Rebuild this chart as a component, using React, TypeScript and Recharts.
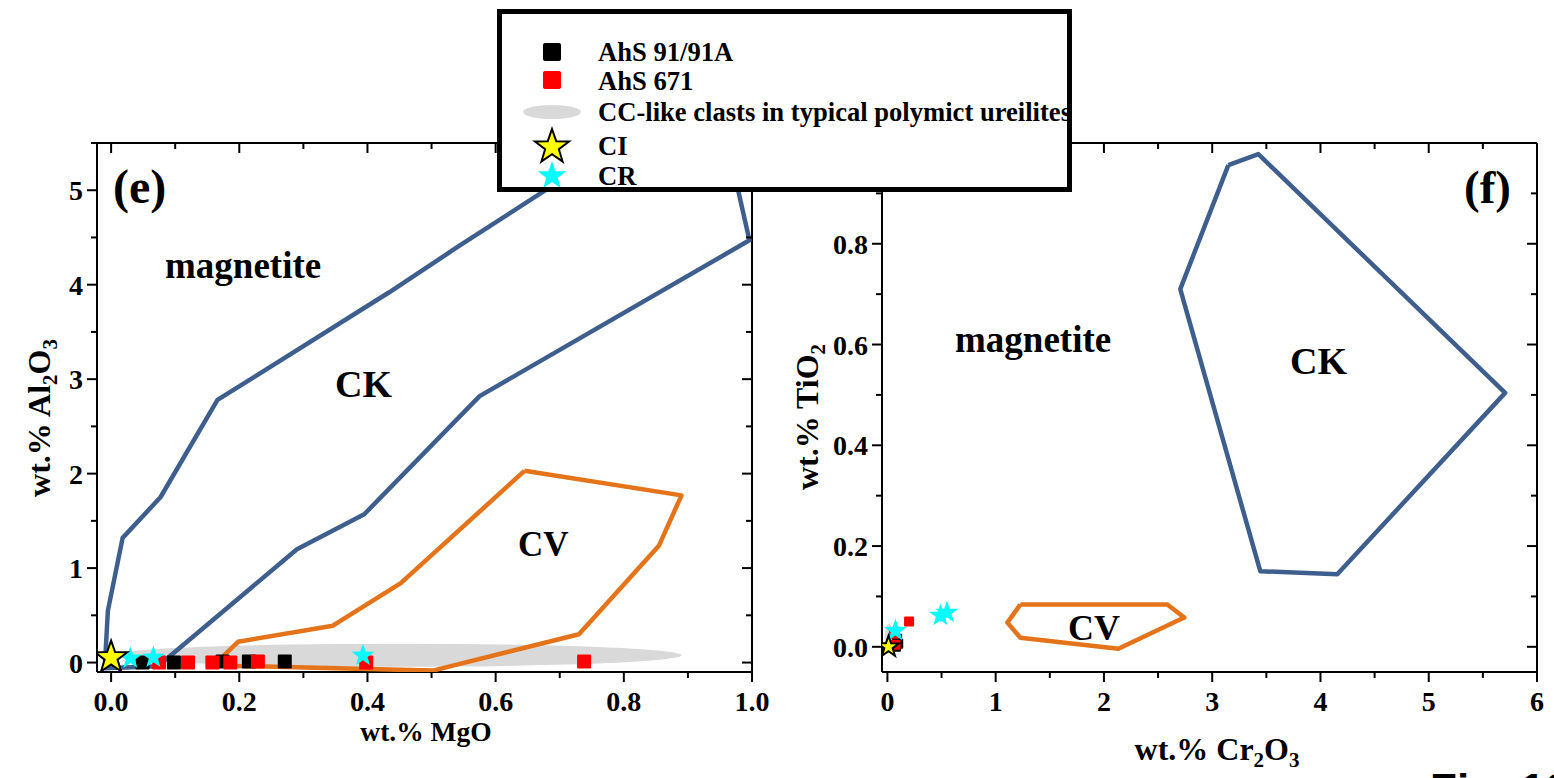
import React from "react";
import { ReferenceArea, Scatter, ScatterChart, XAxis, YAxis } from "recharts";

// ---- panel (e): MgO vs Al2O3 ----
const ahs91E = [
  { x: 0.049, y: 0.0 },
  { x: 0.098, y: 0.0 },
  { x: 0.174, y: 0.01 },
  { x: 0.215, y: 0.01 },
  { x: 0.271, y: 0.01 },
];
const ahs671E = [
  { x: 0.075, y: 0.0 },
  { x: 0.12, y: 0.0 },
  { x: 0.158, y: 0.0 },
  { x: 0.186, y: 0.0 },
  { x: 0.229, y: 0.01 },
  { x: 0.398, y: 0.0 },
  { x: 0.738, y: 0.01 },
];
const ciE = [{ x: 0.0, y: 0.053 }];
const crE = [
  { x: 0.03, y: 0.045 },
  { x: 0.066, y: 0.055 },
  { x: 0.393, y: 0.075 },
];
const ckE = [
  { x: -0.01, y: -0.06 },
  { x: -0.005, y: 0.55 },
  { x: 0.018, y: 1.32 },
  { x: 0.077, y: 1.75 },
  { x: 0.166, y: 2.78 },
  { x: 0.434, y: 3.92 },
  { x: 0.543, y: 4.41 },
  { x: 0.94, y: 6.15 },
  { x: 0.996, y: 4.47 },
  { x: 0.575, y: 2.82 },
  { x: 0.395, y: 1.57 },
  { x: 0.29, y: 1.2 },
  { x: 0.073, y: -0.04 },
  { x: -0.01, y: -0.06 },
];
const cvE = [
  { x: 0.645, y: 2.03 },
  { x: 0.89, y: 1.77 },
  { x: 0.855, y: 1.24 },
  { x: 0.73, y: 0.3 },
  { x: 0.502, y: -0.085 },
  { x: 0.16, y: -0.03 },
  { x: 0.198, y: 0.22 },
  { x: 0.346, y: 0.39 },
  { x: 0.452, y: 0.84 },
  { x: 0.645, y: 2.03 },
];
const ccE = { x1: 0.005, x2: 0.89, y1: -0.045, y2: 0.2 };
const xTicksE = [0, 0.1, 0.2, 0.3, 0.4, 0.5, 0.6, 0.7, 0.8, 0.9, 1.0];
const xMajorE = [0, 0.2, 0.4, 0.6, 0.8, 1.0];
const yTicksE = [0, 0.5, 1, 1.5, 2, 2.5, 3, 3.5, 4, 4.5, 5, 5.5];
const yMajorE = [0, 1, 2, 3, 4, 5];

// ---- panel (f): Cr2O3 vs TiO2 ----
const ahs91F = [
  { x: 0.08, y: 0.0 },
  { x: 0.1, y: 0.006 },
  { x: 0.09, y: 0.016 },
];
const ahs671F = [
  { x: 0.06, y: 0.026 },
  { x: 0.075, y: 0.004 },
  { x: 0.2, y: 0.05 },
];
const ciF = [{ x: 0.01, y: 0.0 }];
const crF = [
  { x: 0.074, y: 0.032 },
  { x: 0.49, y: 0.062 },
  { x: 0.55, y: 0.068 },
];
const ckF = [
  { x: 3.149, y: 0.956 },
  { x: 3.426, y: 0.978 },
  { x: 5.706, y: 0.504 },
  { x: 4.155, y: 0.144 },
  { x: 3.444, y: 0.15 },
  { x: 2.705, y: 0.71 },
  { x: 3.149, y: 0.956 },
];
const cvF = [
  { x: 1.228, y: 0.084 },
  { x: 2.585, y: 0.084 },
  { x: 2.742, y: 0.058 },
  { x: 2.133, y: -0.004 },
  { x: 1.228, y: 0.018 },
  { x: 1.108, y: 0.048 },
  { x: 1.228, y: 0.084 },
];
const ccF = { x1: -0.025, x2: 0.055, y1: -0.008, y2: 0.046 };
const xTicksF = [0, 0.5, 1, 1.5, 2, 2.5, 3, 3.5, 4, 4.5, 5, 5.5, 6];
const xMajorF = [0, 1, 2, 3, 4, 5, 6];
const yTicksF = [0, 0.1, 0.2, 0.3, 0.4, 0.5, 0.6, 0.7, 0.8, 0.9, 1.0];
const yMajorF = [0, 0.2, 0.4, 0.6, 0.8];

const legendItems = [
  "AhS 91/91A",
  "AhS 671",
  "CC-like clasts in typical polymict ureilites",
  "CI",
  "CR",
];

const SERIF = "'Liberation Serif', 'Times New Roman', serif";
const BLUE = "#3e5f8e";
const ORANGE = "#e4731a";
const GRAY = "#d9d9d9";

const isMajor = (majors: number[], v: number) => majors.some((m) => Math.abs(m - v) < 1e-6);

const makeTick =
  (side: "bottom" | "left" | "top" | "right", majors: number[], digits: number) =>
  (props: any) => {
    const { x, y, payload } = props;
    const v = payload.value as number;
    const major = isMajor(majors, v);
    const len = major ? 10 : 6;
    const label = major ? v.toFixed(digits) : null;
    const txt = { fontFamily: SERIF, fontWeight: 700, fontSize: 28, fill: "#000" };
    if (side === "bottom")
      return (
        <g>
          <line x1={x} y1={y} x2={x} y2={y + len} stroke="#000" strokeWidth={2} />
          {label && (
            <text x={x} y={y + 39} textAnchor="middle" {...txt}>
              {label}
            </text>
          )}
        </g>
      );
    if (side === "left")
      return (
        <g>
          <line x1={x} y1={y} x2={x - len} y2={y} stroke="#000" strokeWidth={2} />
          {label && (
            <text x={x - 14} y={y + 10} textAnchor="end" {...txt}>
              {label}
            </text>
          )}
        </g>
      );
    if (side === "top")
      return <line x1={x} y1={y} x2={x} y2={y + len} stroke="#000" strokeWidth={2} />;
    return <line x1={x} y1={y} x2={x - len} y2={y} stroke="#000" strokeWidth={2} />;
  };

const starPts = (cx: number, cy: number, R: number) => {
  const pts: string[] = [];
  for (let i = 0; i < 10; i++) {
    const r = i % 2 === 0 ? R : R * 0.4;
    const a = ((-90 + i * 36) * Math.PI) / 180;
    pts.push(`${cx + r * Math.cos(a)},${cy + r * Math.sin(a)}`);
  }
  return pts.join(" ");
};

const Star = ({ cx, cy, R, fill, outline }: any) => (
  <polygon
    points={starPts(cx, cy, R)}
    fill={fill}
    stroke={outline ? "#000" : "none"}
    strokeWidth={outline ? 2 : 0}
    strokeLinejoin="miter"
  />
);

const squareShape = (size: number, fill: string) => (p: any) => (
  <rect x={p.cx - size / 2} y={p.cy - size / 2} width={size} height={size} rx={1} fill={fill} />
);
const starShape = (R: number, fill: string, outline: boolean) => (p: any) => (
  <Star cx={p.cx} cy={p.cy} R={R} fill={fill} outline={outline} />
);
const noShape = () => <g />;

const EllipseShape = (p: any) => (
  <ellipse cx={p.x + p.width / 2} cy={p.y + p.height / 2} rx={p.width / 2} ry={p.height / 2} fill={GRAY} />
);

type Pt = { x: number; y: number };
type PanelProps = {
  width: number;
  leftW: number;
  rightW: number;
  xDomain: [number, number];
  yDomain: [number, number];
  xTicks: number[];
  xMajor: number[];
  xDigits: number;
  yTicks: number[];
  yMajor: number[];
  yDigits: number;
  cc: { x1: number; x2: number; y1: number; y2: number };
  ck: Pt[];
  cv: Pt[];
  black: Pt[];
  red: Pt[];
  ci: Pt[];
  cr: Pt[];
  sq: number;
  ciR: number;
  crR: number;
};

const Panel = (p: PanelProps) => (
  <ScatterChart width={p.width} height={778} margin={{ top: 0, right: 0, bottom: 0, left: 0 }}>
    <XAxis
      xAxisId={0}
      type="number"
      dataKey="x"
      domain={p.xDomain}
      allowDataOverflow
      ticks={p.xTicks}
      interval={0}
      height={106}
      tickSize={0}
      tickMargin={0}
      tickLine={false}
      tick={makeTick("bottom", p.xMajor, p.xDigits)}
      axisLine={{ stroke: "#000", strokeWidth: 2 }}
    />
    <XAxis
      xAxisId="top"
      orientation="top"
      type="number"
      dataKey="x"
      domain={p.xDomain}
      allowDataOverflow
      ticks={p.xTicks}
      interval={0}
      height={143}
      tickSize={0}
      tickMargin={0}
      tickLine={false}
      tick={makeTick("top", p.xMajor, p.xDigits)}
      axisLine={{ stroke: "#000", strokeWidth: 2 }}
    />
    <YAxis
      yAxisId={0}
      type="number"
      dataKey="y"
      domain={p.yDomain}
      allowDataOverflow
      ticks={p.yTicks}
      interval={0}
      width={p.leftW}
      tickSize={0}
      tickMargin={0}
      tickLine={false}
      tick={makeTick("left", p.yMajor, p.yDigits)}
      axisLine={{ stroke: "#000", strokeWidth: 2 }}
    />
    <YAxis
      yAxisId="right"
      orientation="right"
      type="number"
      dataKey="y"
      domain={p.yDomain}
      allowDataOverflow
      ticks={p.yTicks}
      interval={0}
      width={p.rightW}
      tickSize={0}
      tickMargin={0}
      tickLine={false}
      tick={makeTick("right", p.yMajor, p.yDigits)}
      axisLine={{ stroke: "#000", strokeWidth: 2 }}
    />
    <ReferenceArea {...p.cc} ifOverflow="hidden" shape={EllipseShape} />
    <Scatter data={p.ck} shape={noShape} line={{ stroke: BLUE, strokeWidth: 4.5, strokeLinejoin: "round" }} fill={BLUE} isAnimationActive={false} />
    <Scatter data={p.cv} shape={noShape} line={{ stroke: ORANGE, strokeWidth: 4.5, strokeLinejoin: "round" }} fill={ORANGE} isAnimationActive={false} />
    <Scatter data={p.black} shape={squareShape(p.sq, "#000")} isAnimationActive={false} />
    <Scatter data={p.red} shape={squareShape(p.sq, "#ff0000")} isAnimationActive={false} />
    <Scatter data={p.cr} shape={starShape(p.crR, "#00ffff", false)} isAnimationActive={false} />
    <Scatter data={p.ci} shape={starShape(p.ciR, "#ffff00", true)} isAnimationActive={false} />
  </ScatterChart>
);

const T = ({ x, y, size, children, anchor }: any) => (
  <text x={x} y={y} fontFamily={SERIF} fontWeight={700} fontSize={size} textAnchor={anchor || "start"} fill="#000">
    {children}
  </text>
);

export default function App() {
  return (
    <div style={{ position: "absolute", left: 0, top: 0, width: 1554, height: 778, overflow: "hidden", background: "#fff" }}>
      <div style={{ position: "absolute", left: 0, top: 0 }}>
        <Panel
          width={770}
          leftW={97}
          rightW={18}
          xDomain={[-0.022, 1.0]}
          yDomain={[-0.1, 5.5]}
          xTicks={xTicksE}
          xMajor={xMajorE}
          xDigits={1}
          yTicks={yTicksE}
          yMajor={yMajorE}
          yDigits={0}
          cc={ccE}
          ck={ckE}
          cv={cvE}
          black={ahs91E}
          red={ahs671E}
          ci={ciE}
          cr={crE}
          sq={14}
          ciR={17}
          crR={12}
        />
      </div>
      <div style={{ position: "absolute", left: 770, top: 0 }}>
        <Panel
          width={784}
          leftW={112}
          rightW={17}
          xDomain={[-0.05, 6]}
          yDomain={[-0.05, 1.0]}
          xTicks={xTicksF}
          xMajor={xMajorF}
          xDigits={0}
          yTicks={yTicksF}
          yMajor={yMajorF}
          yDigits={1}
          cc={ccF}
          ck={ckF}
          cv={cvF}
          black={ahs91F}
          red={ahs671F}
          ci={ciF}
          cr={crF}
          sq={10}
          ciR={11}
          crR={12}
        />
      </div>

      <svg width={1554} height={778} style={{ position: "absolute", left: 0, top: 0, pointerEvents: "none" }}>
        <T x={113} y={203} size={48}>(e)</T>
        <T x={165} y={278} size={37}>magnetite</T>
        <T x={335} y={397} size={38}>CK</T>
        <T x={518} y={556} size={35}>CV</T>
        <T x={1464} y={203} size={47}>(f)</T>
        <T x={955} y={352} size={37}>magnetite</T>
        <T x={1290} y={374} size={38}>CK</T>
        <T x={1068} y={640} size={36}>CV</T>

        <T x={426} y={741} size={27.5} anchor="middle">wt.% MgO</T>
        <text x={1217} y={760} fontFamily={SERIF} fontWeight={700} fontSize={32} textAnchor="middle">
          wt.% Cr<tspan dy={7} fontSize={21}>2</tspan>
          <tspan dy={-7}>O</tspan>
          <tspan dy={7} fontSize={21}>3</tspan>
        </text>
        <text transform="translate(50,418) rotate(-90)" fontFamily={SERIF} fontWeight={700} fontSize={32} textAnchor="middle">
          wt.% Al<tspan dy={7} fontSize={21}>2</tspan>
          <tspan dy={-7}>O</tspan>
          <tspan dy={7} fontSize={21}>3</tspan>
        </text>
        <text transform="translate(818,417) rotate(-90)" fontFamily={SERIF} fontWeight={700} fontSize={32} textAnchor="middle">
          wt.% TiO<tspan dy={7} fontSize={21}>2</tspan>
        </text>

        <text x={1430} y={805} fontFamily="'Liberation Sans', Arial, sans-serif" fontWeight={700} fontSize={44}>
          Fig. 10
        </text>
      </svg>

      <div
        style={{
          position: "absolute",
          left: 497,
          top: 9,
          width: 575,
          height: 183,
          boxSizing: "border-box",
          border: "5px solid #000",
          background: "#fff",
          overflow: "hidden",
        }}
      >
        <svg width={570} height={178} style={{ position: "absolute", left: -5, top: -5 }}>
          <rect x={46} y={34} width={18} height={18} rx={2} fill="#000" />
          <rect x={46} y={62} width={18} height={18} rx={2} fill="#ff0000" />
          <ellipse cx={55} cy={103} rx={29} ry={7} fill={GRAY} />
          <Star cx={55} cy={138} R={18} fill="#ffff00" outline />
          <Star cx={55} cy={167} R={15} fill="#00ffff" outline={false} />
          {legendItems.map((t, i) => (
            <T key={t} x={101} y={[52, 81, 112, 146, 176][i]} size={26.6}>
              {t}
            </T>
          ))}
        </svg>
      </div>
    </div>
  );
}
